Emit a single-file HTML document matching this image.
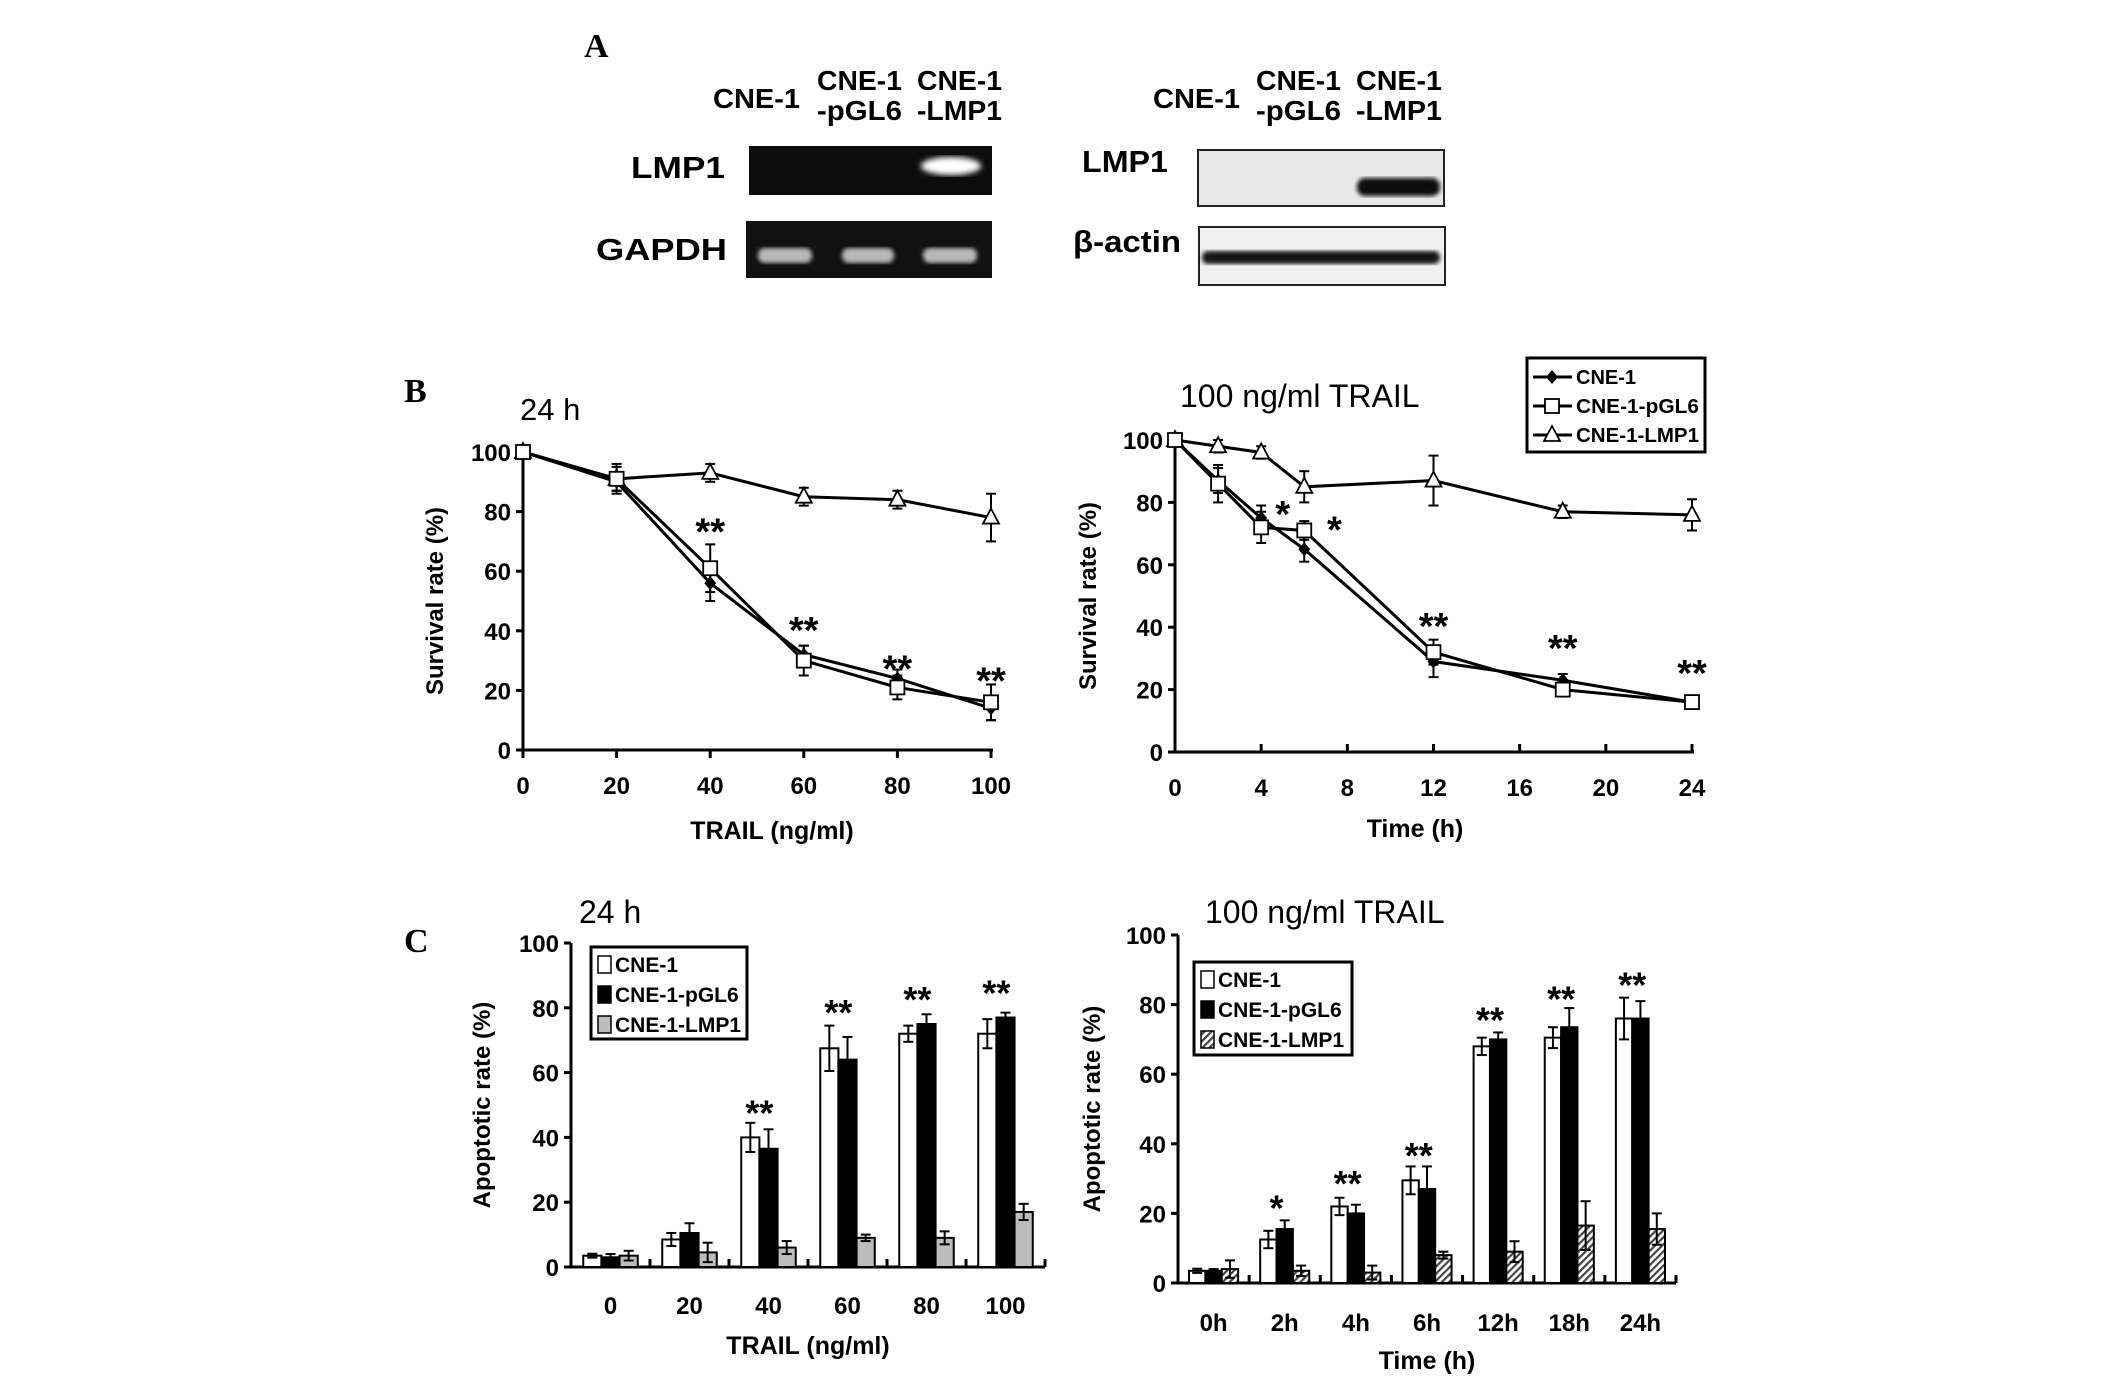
<!DOCTYPE html>
<html><head><meta charset="utf-8"><style>
html,body{margin:0;padding:0;background:#fff;}
svg{display:block;font-family:"Liberation Sans",Arial,sans-serif;}
.b{font-weight:bold;}
</style></head><body>
<svg id="fig" width="2126" height="1378" viewBox="0 0 2126 1378" xmlns="http://www.w3.org/2000/svg">
<defs>
<pattern id="hatch" width="5" height="5" patternUnits="userSpaceOnUse" patternTransform="rotate(45)"><rect width="5" height="5" fill="#fff"/><rect width="2.2" height="5" fill="#444"/></pattern>
<filter id="blur3"><feGaussianBlur stdDeviation="3"/></filter>
<filter id="blur2"><feGaussianBlur stdDeviation="2"/></filter>
</defs>

<!-- Panel A -->
<g>
<text x="584" y="57" font-family="Liberation Serif" font-weight="bold" font-size="34">A</text>
<g class="b" font-size="28">
<text x="713" y="108" textLength="87" lengthAdjust="spacingAndGlyphs">CNE-1</text>
<text x="817" y="90" textLength="85" lengthAdjust="spacingAndGlyphs">CNE-1</text>
<text x="817" y="120" textLength="85" lengthAdjust="spacingAndGlyphs">-pGL6</text>
<text x="917" y="90" textLength="85" lengthAdjust="spacingAndGlyphs">CNE-1</text>
<text x="917" y="120" textLength="85" lengthAdjust="spacingAndGlyphs">-LMP1</text>
</g>
<text x="631" y="178" class="b" font-size="31" textLength="94" lengthAdjust="spacingAndGlyphs">LMP1</text>
<text x="596" y="260" class="b" font-size="31" textLength="131" lengthAdjust="spacingAndGlyphs">GAPDH</text>
<rect x="749" y="146" width="243" height="49" fill="#0c0c0c"/>
<ellipse cx="951" cy="166" rx="30" ry="9" fill="#fff" filter="url(#blur3)"/>
<rect x="746" y="221" width="246" height="57" fill="#111"/>
<g fill="#b8b8b8" filter="url(#blur2)">
<rect x="758" y="248" width="54" height="15" rx="7"/><rect x="842" y="248" width="52" height="15" rx="7"/><rect x="923" y="248" width="54" height="15" rx="7"/>
</g>
<g class="b" font-size="28">
<text x="1153" y="108" textLength="87" lengthAdjust="spacingAndGlyphs">CNE-1</text>
<text x="1256" y="90" textLength="85" lengthAdjust="spacingAndGlyphs">CNE-1</text>
<text x="1256" y="120" textLength="85" lengthAdjust="spacingAndGlyphs">-pGL6</text>
<text x="1356" y="90" textLength="86" lengthAdjust="spacingAndGlyphs">CNE-1</text>
<text x="1356" y="120" textLength="86" lengthAdjust="spacingAndGlyphs">-LMP1</text>
</g>
<text x="1082" y="172" class="b" font-size="31" textLength="86" lengthAdjust="spacingAndGlyphs">LMP1</text>
<text x="1073" y="252" class="b" font-size="31" textLength="108" lengthAdjust="spacingAndGlyphs">β-actin</text>
<rect x="1198" y="150" width="246" height="56" fill="#e8e8e8" stroke="#222" stroke-width="2"/>
<rect x="1357" y="178" width="83" height="18" rx="8" fill="#111" filter="url(#blur2)"/>
<rect x="1199" y="227" width="246" height="58" fill="#f0f0f0" stroke="#222" stroke-width="2"/>
<rect x="1202" y="251" width="238" height="13" rx="6" fill="#161616" filter="url(#blur2)"/>
</g>

<text x="404" y="402" font-family="Liberation Serif" font-weight="bold" font-size="34">B</text>
<text x="404" y="952" font-family="Liberation Serif" font-weight="bold" font-size="34">C</text>

<g id="bl"></g>
<g id="br"></g>
<g id="cl"></g>
<g id="cr"></g>
</svg>
<script>
// ---- Chart B left data ----
const bDoses = [0, 20, 40, 60, 80, 100];
const bDoseCne = [100, 90, 56, 32, 24, 14];
const bDoseCneErr = [0, 3, 6, 3, 3, 4];
const bDosePgl = [100, 91, 61, 30, 21, 16];
const bDosePglErr = [0, 4, 8, 5, 4, 6];
const bDoseLmp = [100, 91, 93, 85, 84, 78];
const bDoseLmpErr = [0, 5, 3, 3, 3, 8];
const bDoseStars = ['', '', '**', '**', '**', '**'];
const bDoseStarY = [0, 0, 74, 41, 28, 24];
const bDoseTicks = ['0', '20', '40', '60', '80', '100'];
const bYTicks = [0, 20, 40, 60, 80, 100];
// ---- Chart B right data ----
const bTimes = [0, 2, 4, 6, 12, 18, 24];
const bTimeCne = [100, 87, 75, 65, 29, 23, 16];
const bTimeCneErr = [0, 4, 4, 4, 5, 2, 2];
const bTimePgl = [100, 86, 72, 71, 32, 20, 16];
const bTimePglErr = [0, 6, 5, 3, 4, 2, 2];
const bTimeLmp = [100, 98, 96, 85, 87, 77, 76];
const bTimeLmpErr = [0, 2, 2, 5, 8, 2, 5];
const bTimeStars = ['', '', '*', '*', '**', '**', '**'];
const bTimeStarX = [0, 0, 5, 7.4, 12, 18, 24];
const bTimeStarY = [0, 0, 77, 72, 41, 34, 26];
const bTimeTicks = [0, 4, 8, 12, 16, 20, 24];
// ---- Chart C left data ----
const cDoseCats = ['0', '20', '40', '60', '80', '100'];
const cDoseCne = [3.5, 8.5, 40, 67.5, 72, 72];
const cDoseCneErr = [0.6, 2, 4.5, 7, 2.5, 4.5];
const cDosePgl = [3, 10.5, 36.5, 64, 75, 77];
const cDosePglErr = [1, 3, 6, 7, 3, 1.5];
const cDoseLmp = [3.5, 4.5, 6, 9, 9, 17];
const cDoseLmpErr = [1.5, 3, 2, 1, 2, 2.5];
const cDoseStars = ['', '', '**', '**', '**', '**'];
const cDoseStarY = [0, 0, 48, 79, 83, 85];
// ---- Chart C right data ----
const cTimeCats = ['0h', '2h', '4h', '6h', '12h', '18h', '24h'];
const cTimeCne = [3.5, 12.5, 22, 29.5, 68, 70.5, 76];
const cTimeCneErr = [0.6, 2.5, 2.5, 4, 2.5, 3, 6];
const cTimePgl = [3.5, 15.5, 20, 27, 70, 73.5, 76];
const cTimePglErr = [0.5, 2.5, 2.5, 6.5, 2, 5.5, 5];
const cTimeLmp = [4, 3.5, 3, 8, 9, 16.5, 15.5];
const cTimeLmpErr = [2.5, 1.5, 2, 1, 3, 7, 4.5];
const cTimeStars = ['', '*', '**', '**', '**', '**', '**'];
const cTimeStarY = [0, 22, 29, 37, 76, 82, 86];

const NS = 'http://www.w3.org/2000/svg';
function mk(parent, tag, attrs, text) {
  const e = document.createElementNS(NS, tag);
  for (const k in attrs) e.setAttribute(k, attrs[k]);
  if (text !== undefined) e.textContent = text;
  parent.appendChild(e);
  return e;
}

function yAxis(g, x, yScale, ticks, title, titleX) {
  const ax = mk(g, 'line', {x1: x, x2: x, y1: yScale(100), y2: yScale(0), stroke: '#000', 'stroke-width': 3});
  
  
  ticks.forEach(t => {
    mk(g, 'line', {x1: x - 7, x2: x, y1: yScale(t), y2: yScale(t), stroke: '#000', 'stroke-width': 3});
    const lb = mk(g, 'text', {x: x - 12, y: yScale(t) + 9, 'text-anchor': 'end', 'font-size': 24, 'font-weight': 'bold'}, String(t));
    
    
  });
  const cy = (yScale(0) + yScale(100)) / 2;
  const tt = mk(g, 'text', {x: titleX, y: cy, 'text-anchor': 'middle', 'font-size': 24, 'font-weight': 'bold', transform: `rotate(-90 ${titleX} ${cy})`}, title);
  
  
}

function marker(g, type, x, y) {
  let m;
  if (type === 'diamond') m = mk(g, 'path', {d: `M${x} ${y-7}L${x+6} ${y}L${x} ${y+7}L${x-6} ${y}Z`, fill: '#000'});
  else if (type === 'square') m = mk(g, 'rect', {x: x - 7, y: y - 7, width: 14, height: 14, fill: '#fff', stroke: '#000', 'stroke-width': 1.8});
  else m = mk(g, 'path', {d: `M${x} ${y-9}L${x+8} ${y+6}L${x-8} ${y+6}Z`, fill: '#fff', stroke: '#000', 'stroke-width': 1.8});
  return m;
}

function errBar(g, x, y1, y2) {
  mk(g, 'line', {x1: x, x2: x, y1: y1, y2: y2, stroke: '#000', 'stroke-width': 2});
  mk(g, 'line', {x1: x - 5, x2: x + 5, y1: y2, y2: y2, stroke: '#000', 'stroke-width': 2});
}

function lineSeries(g, name, xs, vals, errs, xS, yS, type) {
  const sg = mk(g, 'g', {});
  
  
  const pts = xs.map((x, i) => `${xS(x)},${yS(vals[i])}`).join(' ');
  mk(sg, 'polyline', {points: pts, fill: 'none', stroke: '#000', 'stroke-width': 3});
  xs.forEach((x, i) => {
    if (errs[i] > 0) { errBar(sg, xS(x), yS(vals[i]), yS(vals[i] + errs[i])); errBar(sg, xS(x), yS(vals[i]), yS(vals[i] - errs[i])); }
  });
  xs.forEach((x, i) => {
    const m = marker(sg, type, xS(x), yS(vals[i]));
    
    
  });
}

// ===== Chart B left =====
(function(){
  const g = document.getElementById('bl');
  const xS = v => 523 + v * (991 - 523) / 100;
  const yS = v => 750 - v * (750 - 452) / 100;
  const t = mk(g, 'text', {x: 520, y: 420, 'font-size': 31}, '24 h');
  
  
  yAxis(g, 523, yS, bYTicks, 'Survival rate (%)', 443);
  const xa = mk(g, 'line', {x1: 523, x2: 993, y1: 750, y2: 750, stroke: '#000', 'stroke-width': 3});
  
  
  bDoses.forEach((d, i) => {
    mk(g, 'line', {x1: xS(d), x2: xS(d), y1: 750, y2: 758, stroke: '#000', 'stroke-width': 3});
    const lb = mk(g, 'text', {x: xS(d), y: 794, 'text-anchor': 'middle', 'font-size': 24, 'font-weight': 'bold'}, bDoseTicks[i]);
    
    
  });
  const xt = mk(g, 'text', {x: 772, y: 839, 'text-anchor': 'middle', 'font-size': 25, 'font-weight': 'bold'}, 'TRAIL (ng/ml)');
  
  
  lineSeries(g, 'series-cne1-lmp1', bDoses, bDoseLmp, bDoseLmpErr, xS, yS, 'triangle');
  lineSeries(g, 'series-cne1', bDoses, bDoseCne, bDoseCneErr, xS, yS, 'diamond');
  lineSeries(g, 'series-cne1-pgl6', bDoses, bDosePgl, bDosePglErr, xS, yS, 'square');
  bDoses.forEach((d, i) => {
    if (!bDoseStars[i]) return;
    const s = mk(g, 'text', {x: xS(d), y: yS(bDoseStarY[i]) + 15, 'text-anchor': 'middle', 'font-size': 38, 'font-weight': 'bold'}, bDoseStars[i]);
    
    
  });
})();

// ===== Chart B right =====
(function(){
  const g = document.getElementById('br');
  const xS = v => 1175 + v * (1692 - 1175) / 24;
  const yS = v => 752 - v * (752 - 440) / 100;
  const t = mk(g, 'text', {x: 1180, y: 407, 'font-size': 32}, '100 ng/ml TRAIL');
  
  
  yAxis(g, 1175, yS, bYTicks, 'Survival rate (%)', 1096);
  const xa = mk(g, 'line', {x1: 1175, x2: 1694, y1: 752, y2: 752, stroke: '#000', 'stroke-width': 3});
  
  
  bTimeTicks.forEach(d => {
    mk(g, 'line', {x1: xS(d), x2: xS(d), y1: 744, y2: 752, stroke: '#000', 'stroke-width': 3});
    const lb = mk(g, 'text', {x: xS(d), y: 796, 'text-anchor': 'middle', 'font-size': 24, 'font-weight': 'bold'}, String(d));
    
    
  });
  const xt = mk(g, 'text', {x: 1415, y: 837, 'text-anchor': 'middle', 'font-size': 25, 'font-weight': 'bold'}, 'Time (h)');
  
  
  lineSeries(g, 'series-cne1-lmp1', bTimes, bTimeLmp, bTimeLmpErr, xS, yS, 'triangle');
  lineSeries(g, 'series-cne1', bTimes, bTimeCne, bTimeCneErr, xS, yS, 'diamond');
  lineSeries(g, 'series-cne1-pgl6', bTimes, bTimePgl, bTimePglErr, xS, yS, 'square');
  bTimes.forEach((d, i) => {
    if (!bTimeStars[i]) return;
    const s = mk(g, 'text', {x: xS(bTimeStarX[i]), y: yS(bTimeStarY[i]) + 15, 'text-anchor': 'middle', 'font-size': 38, 'font-weight': 'bold'}, bTimeStars[i]);
    
    
  });
  const lg = mk(g, 'g', {});
  
  
  mk(lg, 'rect', {x: 1527, y: 358, width: 178, height: 94, fill: '#fff', stroke: '#000', 'stroke-width': 3});
  const names = ['CNE-1', 'CNE-1-pGL6', 'CNE-1-LMP1'];
  const types = ['diamond', 'square', 'triangle'];
  names.forEach((n, i) => {
    const y = 377 + i * 29;
    const e = mk(lg, 'g', {});
    
    
    mk(e, 'line', {x1: 1533, x2: 1572, y1: y, y2: y, stroke: '#000', 'stroke-width': 3});
    marker(e, types[i], 1552, y);
    mk(e, 'text', {x: 1576, y: y + 7, 'font-size': 20, 'font-weight': 'bold', textLength: 123, lengthAdjust: 'spacingAndGlyphs'}, n).removeAttribute(n === 'CNE-1' ? 'textLength' : 'x-none');
  });
})();

function barChart(g, o) {
  const gw = (o.x1 - o.x0) / o.cats.length;
  const bw = gw * 0.23;
  const yS = v => o.y0 - v * (o.y0 - o.y100) / 100;
  const t = mk(g, 'text', {x: o.titleX, y: o.titleY, 'font-size': 32}, o.title);
  
  
  yAxis(g, o.x0, yS, bYTicks, 'Apoptotic rate (%)', o.yTitleX);
  const xa = mk(g, 'line', {x1: o.x0, x2: o.x1, y1: o.y0, y2: o.y0, stroke: '#000', 'stroke-width': 3});
  
  
  for (let i = 0; i <= o.cats.length; i++) mk(g, 'line', {x1: o.x0 + i * gw, x2: o.x0 + i * gw, y1: o.y0 - 8, y2: o.y0, stroke: '#000', 'stroke-width': 3});
  const fills = ['#fff', '#000', o.thirdFill];
  const names = ['bar-cne1', 'bar-cne1-pgl6', 'bar-cne1-lmp1'];
  o.cats.forEach((c, i) => {
    const cx = o.x0 + (i + 0.5) * gw;
    [o.s1, o.s2, o.s3].forEach((s, k) => {
      const bx = cx + (k - 1.5) * bw;
      const v = s[i], e = [o.e1, o.e2, o.e3][k][i];
      const r = mk(g, 'rect', {x: bx, y: yS(v), width: bw, height: yS(0) - yS(v), fill: fills[k], stroke: '#000', 'stroke-width': 2});
      
      
      const ex = bx + bw / 2;
      mk(g, 'line', {x1: ex, x2: ex, y1: yS(v - e), y2: yS(v + e), stroke: '#000', 'stroke-width': 2});
      mk(g, 'line', {x1: ex - 5, x2: ex + 5, y1: yS(v + e), y2: yS(v + e), stroke: '#000', 'stroke-width': 2});
      mk(g, 'line', {x1: ex - 5, x2: ex + 5, y1: yS(v - e), y2: yS(v - e), stroke: '#000', 'stroke-width': 2});
    });
    const lb = mk(g, 'text', {x: cx, y: o.tickY, 'text-anchor': 'middle', 'font-size': 24, 'font-weight': 'bold'}, c);
    
    
    if (o.stars[i]) {
      const s = mk(g, 'text', {x: cx - bw * 0.5, y: yS(o.starY[i]) + 14, 'text-anchor': 'middle', 'font-size': 36, 'font-weight': 'bold'}, o.stars[i]);
      
      
    }
  });
  const xt = mk(g, 'text', {x: (o.x0 + o.x1) / 2, y: o.xTitleY, 'text-anchor': 'middle', 'font-size': 25, 'font-weight': 'bold'}, o.xTitle);
  
  
  const lg = mk(g, 'g', {});
  
  
  mk(lg, 'rect', {x: o.lx, y: o.ly, width: o.lw, height: o.lh, fill: '#fff', stroke: '#000', 'stroke-width': 3});
  ['CNE-1', 'CNE-1-pGL6', 'CNE-1-LMP1'].forEach((n, k) => {
    const y = o.ly + 17 + k * 30;
    const e = mk(lg, 'g', {});
    
    
    mk(e, 'rect', {x: o.lx + 7, y: y - 8, width: 13, height: 17, fill: fills[k], stroke: '#000', 'stroke-width': 1.5});
    mk(e, 'text', {x: o.lx + 24, y: y + 8, 'font-size': 21, 'font-weight': 'bold'}, n);
  });
}

barChart(document.getElementById('cl'), {
  cats: cDoseCats, s1: cDoseCne, s2: cDosePgl, s3: cDoseLmp, e1: cDoseCneErr, e2: cDosePglErr, e3: cDoseLmpErr,
  stars: cDoseStars, starY: cDoseStarY, thirdFill: '#bcbcbc',
  x0: 571, x1: 1045, y0: 1267, y100: 943, title: '24 h', titleX: 579, titleY: 923,
  yTitleX: 490, tickY: 1314, xTitle: 'TRAIL (ng/ml)', xTitleY: 1354,
  lx: 591, ly: 947, lw: 156, lh: 92
});
barChart(document.getElementById('cr'), {
  cats: cTimeCats, s1: cTimeCne, s2: cTimePgl, s3: cTimeLmp, e1: cTimeCneErr, e2: cTimePglErr, e3: cTimeLmpErr,
  stars: cTimeStars, starY: cTimeStarY, thirdFill: 'url(#hatch)',
  x0: 1178, x1: 1676, y0: 1283, y100: 935, title: '100 ng/ml TRAIL', titleX: 1205, titleY: 923,
  yTitleX: 1100, tickY: 1331, xTitle: 'Time (h)', xTitleY: 1369,
  lx: 1194, ly: 962, lw: 158, lh: 93
});
</script>
</body></html>
